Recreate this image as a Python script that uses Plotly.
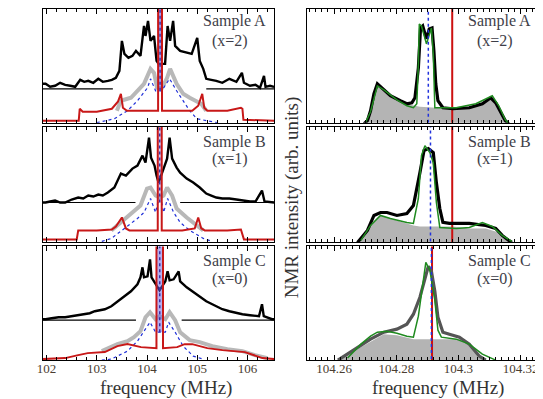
import plotly.graph_objects as go

# page body has an 8px margin: figure is placed at (8, 8) in the window
OFF = 8
W, H = 535, 391

# ---------------- Left column (wide spectra, MHz) ----------------
# Sample A
a_blk_f = [101.92,101.98,102.07,102.17,102.27,102.37,102.47,102.57,102.67,102.75,102.83,102.93,103.03,103.12,103.22,103.30,103.38,103.45,103.50,103.55,103.63,103.71,103.78,103.87,103.94,103.97,104.02,104.07,104.14,104.19,104.23,104.36,104.41,104.46,104.52,104.56,104.66,104.79,104.89,105.00,105.05,105.12,105.18,105.28,105.38,105.50,105.64,105.78,105.89,105.93,106.05,106.16,106.25,106.33,106.36,106.45,106.53]
a_blk_y = [40,40,37,38,41,39,38,37,44,42,43,41,45,42,43,44,46,53,83,70,66,68,73,68,98,88,103,83,88,63,60,60,98,83,103,78,73,71,70,86,63,55,45,44,43,41,45,42,51,41,38,39,36,48,37,38,37]
a_base_l = [101.92, 103.32]
a_base_r = [105.18, 106.53]
a_base_y = 35
a_red_f = [101.92,102.64,102.66,102.72,103.00,103.30,103.42,103.48,103.52,103.60,104.221,104.221,104.299,104.299,104.90,105.02,105.10,105.14,105.20,105.60,105.87,105.90,105.92,106.53]
a_red_y = [3,3,15,12,12,15,22,30,16,13,13,130,130,13,13,18,30,16,13,13,16,15,4,3]
a_gry_f = [103.40,103.48,103.68,103.81,103.94,104.07,104.14,104.20,104.26,104.30,104.40,104.46,104.59,104.72,104.85,104.99,105.08,105.18]
a_gry_y = [13,23,26,33,40,55,51,36,36,36,46,55,40,30,26,23,20,13]
a_blu_f = [103.00,103.35,103.61,103.81,104.01,104.07,104.17,104.221,104.299,104.33,104.45,104.59,104.72,104.85,104.99,105.40]
a_blu_y = [1,5,13,23,36,45,33,33,33,36,45,33,23,13,5,1]
a_band = [104.221, 104.299, 33]

# Sample B
b_blk_f = [101.92,101.98,102.07,102.17,102.27,102.37,102.50,102.63,102.73,102.83,102.93,103.03,103.12,103.22,103.35,103.42,103.48,103.58,103.71,103.81,103.91,103.97,104.04,104.08,104.15,104.19,104.23,104.33,104.40,104.45,104.50,104.59,104.66,104.79,104.92,105.05,105.18,105.28,105.38,105.50,105.64,105.78,105.90,106.05,106.16,106.29,106.34,106.45,106.53]
b_blk_y = [40,40,41,42,40,40,43,45,44,47,46,48,47,50,55,62,69,67,74,77,87,80,105,85,77,67,60,74,84,105,84,75,70,64,60,55,49,47,45,44,44,43,42,41,41,52,41,40,40]
b_base_l = [101.92, 103.77]
b_base_r = [104.66, 106.53]
b_base_y = 40
b_red_f = [101.92,102.60,102.63,102.67,103.00,103.30,103.38,103.50,103.58,103.65,104.214,104.214,104.293,104.293,104.70,104.95,105.02,105.08,105.15,105.60,105.87,105.93,106.53]
b_red_y = [3,3,12,12,12,13,16,25,14,12,12,130,130,12,12,14,25,14,12,12,13,3,3]
b_gry_f = [103.29,103.48,103.68,103.87,104.00,104.07,104.17,104.25,104.33,104.40,104.50,104.59,104.79,104.99,105.12]
b_gry_y = [12,20,29,37,54,55,47,45,47,55,47,34,25,17,12]
b_blu_f = [103.10,103.29,103.55,103.81,103.94,104.07,104.17,104.214,104.293,104.33,104.41,104.53,104.66,104.85,105.12,105.30]
b_blu_y = [1,4,14,24,30,44,30,40,40,30,44,30,20,12,4,1]
b_band = [104.214, 104.293, 40]

# Sample C
c_blk_f = [101.92,101.98,102.10,102.24,102.37,102.50,102.63,102.76,102.86,102.96,103.06,103.16,103.29,103.42,103.55,103.68,103.81,103.87,103.91,103.94,104.01,104.06,104.09,104.14,104.18,104.25,104.365,104.41,104.45,104.53,104.63,104.66,104.79,104.99,105.18,105.38,105.50,105.64,105.78,105.90,106.05,106.23,106.29,106.325,106.49,106.53]
c_blk_y = [41,41,42,43,43,44,45,46,47,49,50,51,54,59,64,69,76,83,93,83,84,101,83,79,76,70,79,89,80,81,89,79,73,66,59,54,51,49,47,46,45,44,56,44,41,41]
c_base_l = [101.92, 103.78]
c_base_r = [104.69, 106.53]
c_base_y = 40
c_red_f = [101.92,102.37,102.63,102.82,103.16,103.41,103.61,103.88,104.188,104.188,104.319,104.319,104.60,104.75,104.90,105.20,105.50,105.95,106.30,106.53]
c_red_y = [1,2,5,7,8,14,16,13,12,130,130,12,13,16,16,12,10,8,2,1]
c_gry_f = [103.10,103.41,103.61,103.74,103.87,103.97,104.06,104.17,104.25,104.365,104.45,104.56,104.66,104.85,105.05,105.30,105.60,105.90,106.15,106.40]
c_gry_y = [9,16,19,23,29,43,48,41,44,41,48,40,28,20,18,14,11,9,5,2]
c_blu_f = [103.10,103.29,103.61,103.81,103.94,104.06,104.17,104.188,104.319,104.365,104.43,104.56,104.72,104.92,105.12]
c_blu_y = [0,1,9,19,29,38,28,28,28,28,38,28,14,4,1]
c_band = [104.188, 104.319, 28]

# ---------------- Right column (zoom, MHz) ----------------
ra_blk_f = [104.2696,104.2707,104.2717,104.2728,104.2739,104.2754,104.2781,104.2813,104.2834,104.2850,104.2860,104.2871,104.2878,104.2885,104.2897,104.2906,104.2915,104.2921,104.2927,104.2934,104.2950,104.2982,104.3035,104.3077,104.3104,104.3120,104.3141,104.3151,104.3162]
ra_blk_y = [0,3,13,30,40,36,28,23,20,21,26,56,96,98,85,95,96,73,40,23,16,15,16,20,26,21,8,3,0]
ra_grn_f = [104.2702,104.2717,104.2739,104.2760,104.2802,104.2834,104.2855,104.2866,104.2871,104.2874,104.2881,104.2897,104.2913,104.2919,104.2924,104.2950,104.2993,104.3056,104.3109,104.3130,104.3151,104.3162]
ra_grn_y = [2,12,38,34,24,18,16,20,60,100,98,80,96,70,16,16,16,20,28,18,4,0]
ra_fill_f = [104.2696,104.2707,104.2728,104.2739,104.2760,104.2802,104.2844,104.2876,104.2929,104.2982,104.3035,104.3077,104.3104,104.3130,104.3146,104.3156]
ra_fill_y = [0,3,30,39,34,24,19,17,16,15,16,20,26,15,3,0]
ra_blue = 104.2903
ra_red = 104.2980

rb_blk_f = [104.2675,104.2686,104.2707,104.2728,104.2749,104.2770,104.2802,104.2834,104.2855,104.2876,104.2889,104.2903,104.2919,104.2929,104.2940,104.2950,104.2971,104.3035,104.3088,104.3120,104.3141,104.3162,104.3172]
rb_blk_y = [0,4,12,27,30,30,27,29,37,70,92,94,90,60,34,20,19,19,17,14,7,2,0]
rb_grn_f = [104.2686,104.2717,104.2749,104.2781,104.2834,104.2855,104.2871,104.2881,104.2892,104.2908,104.2919,104.2929,104.2940,104.2993,104.3035,104.3077,104.3109,104.3141,104.3172]
rb_grn_y = [2,17,27,24,20,19,44,87,97,90,80,40,15,14,15,20,16,7,1]
rb_fill_f = [104.2680,104.2717,104.2749,104.2781,104.2823,104.2855,104.2876,104.2982,104.3035,104.3088,104.3130,104.3151,104.3162]
rb_fill_y = [0,17,27,24,20,17,16,16,14,14,10,3,0]
rb_blue = 104.2910
rb_red = 104.2980

rc_drk_f = [104.2612,104.2643,104.2675,104.2717,104.2760,104.2802,104.2834,104.2855,104.2876,104.2892,104.2903,104.2913,104.2924,104.2934,104.2950,104.2971,104.3003,104.3035,104.3067,104.3088]
rc_drk_y = [0,6,13,21,28,31,36,46,63,83,94,89,69,43,28,26,23,16,4,0]
rc_grn_f = [104.2643,104.2686,104.2717,104.2739,104.2770,104.2802,104.2834,104.2855,104.2871,104.2885,104.2895,104.2908,104.2924,104.2934,104.2945,104.2993,104.3035,104.3077,104.3120]
rc_grn_y = [2,16,24,28,29,27,24,23,44,76,98,90,60,30,23,21,16,6,0]
rc_fill_f = [104.2612,104.2675,104.2717,104.2760,104.2802,104.2855,104.3003,104.3035,104.3067,104.3088]
rc_fill_y = [0,11,19,26,25,21,21,15,4,0]
rc_blue = 104.2913
rc_red = 104.2915

left_ticks = [102, 103, 104, 105, 106]
right_ticks = [104.26, 104.28, 104.30, 104.32]
right_ticktext = ["104.26", "104.28", "104.3", "104.32"]
samples = [("Sample A", "(x=2)"), ("Sample B", "(x=1)"), ("Sample C", "(x=0)")]

# ---------------- layout geometry (window pixels) ----------------
def px2x(px):
    return min(1.0, max(0.0, (px - OFF) / W))

def py2y(py):
    return min(1.0, max(0.0, 1 - (py - OFF) / H))

rows_px = [(8, 122), (126, 242), (246, 360)]
yranges = [[1, 115], [0, 116], [0, 114]]
left_dom = [px2x(37), px2x(272)]
right_dom = [px2x(305), px2x(538)]
left_range = [101.92, 106.53]
right_range = [104.2511, 104.325]

FONT = "Liberation Serif"
TXT = "#3a3a3a"

fig = go.Figure()

def add(trace, ax):
    trace.update(xaxis="x" + ("" if ax == 1 else str(ax)), yaxis="y" + ("" if ax == 1 else str(ax)),
                 showlegend=False, hoverinfo="skip")
    fig.add_trace(trace)

left_sets = [
    (a_blk_f, a_blk_y, a_base_l, a_base_r, a_base_y, a_red_f, a_red_y, a_gry_f, a_gry_y, a_blu_f, a_blu_y, a_band),
    (b_blk_f, b_blk_y, b_base_l, b_base_r, b_base_y, b_red_f, b_red_y, b_gry_f, b_gry_y, b_blu_f, b_blu_y, b_band),
    (c_blk_f, c_blk_y, c_base_l, c_base_r, c_base_y, c_red_f, c_red_y, c_gry_f, c_gry_y, c_blu_f, c_blu_y, c_band),
]
band_alpha = [0.6, 0.3, 0.5]

for i, (bf, by, bl, br, bby, rf, ry, gf, gy, uf, uy, band) in enumerate(left_sets):
    ax = 2 * i + 1
    add(go.Scatter(x=bl, y=[bby, bby], mode="lines", line=dict(color="black", width=1.2)), ax)
    add(go.Scatter(x=br, y=[bby, bby], mode="lines", line=dict(color="black", width=1.2)), ax)
    add(go.Scatter(x=bf, y=by, mode="lines", line=dict(color="black", width=2.4)), ax)
    add(go.Scatter(x=gf, y=gy, mode="lines", line=dict(color="#b8b8b8", width=4)), ax)
    add(go.Scatter(x=uf, y=uy, mode="lines", line=dict(color="#2030d8", width=1.2, dash="dot")), ax)
    add(go.Scatter(x=[band[0], band[0], band[1], band[1]], y=[130, band[2], band[2], 130], mode="lines",
                   fill="toself", fillcolor="rgba(105,95,225,%s)" % band_alpha[i], line=dict(width=0)), ax)
    mid = (band[0] + band[1]) / 2
    add(go.Scatter(x=[mid, mid], y=[band[2], 130], mode="lines", line=dict(color="#3a2fa8", width=1.5, dash="dot")), ax)
    add(go.Scatter(x=rf, y=ry, mode="lines", line=dict(color="#c81818", width=2)), ax)

right_sets = [
    (ra_fill_f, ra_fill_y, ra_grn_f, ra_grn_y, ra_blk_f, ra_blk_y, "black", ra_blue, ra_red),
    (rb_fill_f, rb_fill_y, rb_grn_f, rb_grn_y, rb_blk_f, rb_blk_y, "black", rb_blue, rb_red),
    (rc_fill_f, rc_fill_y, rc_grn_f, rc_grn_y, rc_drk_f, rc_drk_y, "#555555", rc_blue, rc_red),
]
for i, (ff, fy, gf, gy, kf, ky, kc, vb, vr) in enumerate(right_sets):
    ax = 2 * i + 2
    add(go.Scatter(x=ff, y=fy, mode="lines", fill="tozeroy", fillcolor="#b4b4b4", line=dict(width=0)), ax)
    add(go.Scatter(x=[vr, vr], y=[-5, 130], mode="lines", line=dict(color="#cc1010", width=2)), ax)
    add(go.Scatter(x=kf, y=ky, mode="lines", line=dict(color=kc, width=3.2)), ax)
    add(go.Scatter(x=gf, y=gy, mode="lines", line=dict(color="#1f8a1f", width=1.5)), ax)
    add(go.Scatter(x=[vb, vb], y=[-5, 130], mode="lines", line=dict(color="#2233dd", width=1.5, dash="dot")), ax)

layout = dict(width=W, height=H, margin=dict(l=0, r=0, t=0, b=0),
              plot_bgcolor="white", paper_bgcolor="white",
              font=dict(family=FONT, color=TXT, size=13))

for i in range(3):
    y0, y1 = rows_px[i]
    ydom = [py2y(y1), py2y(y0)]
    for j in range(2):
        ax = 2 * i + j + 1
        suf = "" if ax == 1 else str(ax)
        bottom = (i == 2)
        if j == 0:
            xa = dict(domain=left_dom, range=left_range, tickvals=left_ticks,
                      minor=dict(dtick=0.2, tick0=102, ticks="inside", ticklen=3, tickcolor="black"))
        else:
            xa = dict(domain=right_dom, range=right_range, tickvals=right_ticks, ticktext=right_ticktext,
                      minor=dict(dtick=0.002, tick0=104.26, ticks="inside", ticklen=3, tickcolor="black"))
        xa.update(anchor="y" + suf, showline=True, linecolor="black", linewidth=1.2, mirror="ticks",
                  ticks="inside", ticklen=5, tickcolor="black", showgrid=False, zeroline=False,
                  showticklabels=bottom, ticklabelstandoff=-4,
                  tickfont=dict(family=FONT, size=13, color="#4a3d30"))
        ya = dict(domain=ydom, range=yranges[i], anchor="x" + suf, showline=True, linecolor="black",
                  linewidth=1.2, mirror=True, ticks="", showticklabels=False, showgrid=False, zeroline=False)
        layout["xaxis" + suf] = xa
        layout["yaxis" + suf] = ya

fig.update_layout(**layout)

def txt(px, py, text, size, color, angle=0):
    return dict(x=px2x(px), y=py2y(py), text=text, showarrow=False, xref="paper", yref="paper",
                xanchor="center", yanchor="middle", textangle=angle,
                font=dict(family=FONT, size=size, color=color))

ann = []
lab_py = [(20, 40), (141, 158), (261, 279)]
for i, (s, x) in enumerate(samples):
    for cx1, cx2 in [(232, 227), (501, 496)]:
        ann.append(txt(cx1, lab_py[i][0], s, 16, "#3e3e48"))
        ann.append(txt(cx2, lab_py[i][1], x, 16, "#3e3e48"))
ann.append(txt(162, 388, "frequency (MHz)", 19, "#333"))
ann.append(txt(438, 388, "frequency (MHz)", 19, "#333"))
ann.append(txt(290, 197, "NMR intensity (arb. units)", 19, "#333", angle=-90))
fig.update_layout(annotations=ann)

fig.write_html("out.html")
